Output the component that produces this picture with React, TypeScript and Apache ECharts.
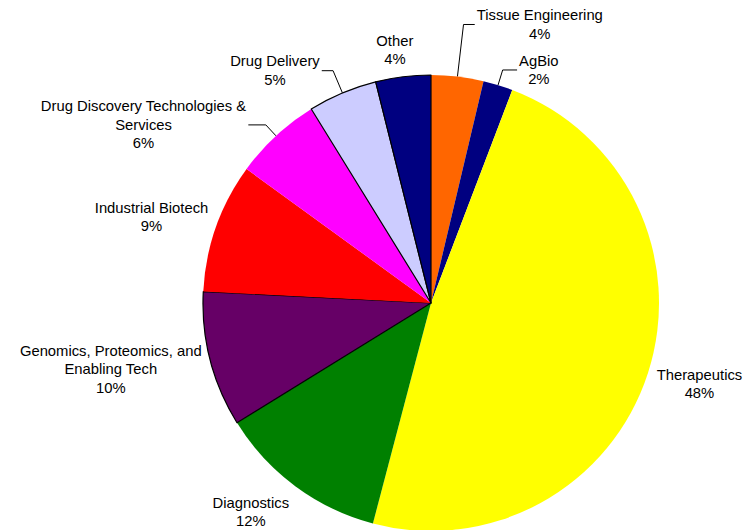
import React, { useEffect, useRef } from "react";
import * as echarts from "echarts";

const categories = [
  "Tissue Engineering",
  "AgBio",
  "Therapeutics",
  "Diagnostics",
  "Genomics, Proteomics, and\nEnabling Tech",
  "Industrial Biotech",
  "Drug Discovery Technologies &\nServices",
  "Drug Delivery",
  "Other",
];
const values = [3.7, 2.1, 48.3, 12.1, 9.6, 9.2, 6.2, 4.9, 3.9];

// styles
const colors = ["#FF6600", "#000080", "#FFFF00", "#008000", "#660066", "#FF0000", "#FF00FF", "#CCCCFF", "#000080"];
const borderWidths = [0, 0, 0, 0, 1.2, 0, 0, 1.2, 1.2];
const lineLen = [52.4, 15.8, 37, 32.1, 37.4, 31, 14.9, 24.1, 26.9];
const lineLen2 = [11.2, 14.4, -28.6, -14.9, -29.7, -23.5, 17.5, 11.3, -15.5];
const showLine = [true, true, false, false, false, false, true, true, false];

const FONT = 'Arial, "Liberation Sans", sans-serif';

export default function App() {
  const ref = useRef<HTMLDivElement>(null);
  useEffect(() => {
    if (!ref.current) return;
    const chart = echarts.init(ref.current, undefined, { renderer: "svg" });
    chart.setOption({
      animation: false,
      backgroundColor: "#ffffff",
      series: [
        {
          type: "pie",
          center: [431, 303],
          radius: 228,
          startAngle: 90,
          clockwise: true,
          avoidLabelOverlap: false,
          percentPrecision: 0,
          label: {
            show: true,
            position: "outside",
            alignTo: "none",
            bleedMargin: 0,
            distanceToLabelLine: 2,
            formatter: "{t|{b}}\n{t|{d}%}",
            rich: {
              t: {
                align: "center",
                fontSize: 14.8,
                lineHeight: 18.5,
                fontFamily: FONT,
                color: "#000000",
              },
            },
          },
          labelLine: { show: false, lineStyle: { color: "#000000", width: 1 } },
          emphasis: { disabled: true },
          data: categories.map((name, i) => ({
            name,
            value: values[i],
            itemStyle: {
              color: colors[i],
              borderColor: "#000000",
              borderWidth: borderWidths[i],
            },
            labelLine: { show: showLine[i], length: lineLen[i], length2: lineLen2[i] },
          })),
        },
      ],
    });
    return () => chart.dispose();
  }, []);
  return (
    <div
      ref={ref}
      style={{ position: "fixed", left: 0, top: 0, width: 752, height: 530 }}
    />
  );
}
